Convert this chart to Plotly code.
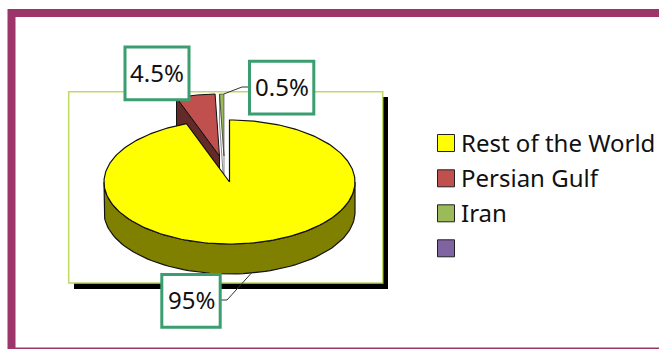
import numpy as np
import plotly.graph_objects as go

# Chart data
categories = ["Rest of the World", "Persian Gulf", "Iran", ""]
shares = [95, 4.5, 0.5, 0]
value_labels = ["95%", "4.5%", "0.5%"]

# Slice styling
top_colors = ["#FFFF00", "#C0504D", "#9BBB59", "#8064A2"]
side_colors = ["#808000", "#632A28", "#FFFFFF", "#403251"]
outline_widths = [1.2, 1.0, 0.5]

# Pie projection on the pixel-sized axes
CX, CY = 229.5, 182.0
RX, RY = 125.5, 62.0
DEPTH = 30.0
WARP = 0.06
EXPLODE = [(0.0, 0.0), (-10.0, -26.0), (-5.5, -26.0)]
OUTLINE = "#111111"
FONT = "Noto Sans, sans-serif"


def project(turn, offset=(0.0, 0.0), drop=0.0):
    """Map a clockwise angle (radians from 12 o'clock) onto the tilted disc."""
    t = np.asarray(turn, dtype=float)
    t = t + WARP * np.sin(2 * t)
    return CX + offset[0] + RX * np.sin(t), CY + offset[1] + drop - RY * np.cos(t)


def polygon(xs, ys, fill, width=1.0):
    return go.Scatter(x=list(xs), y=list(ys), mode="lines", fill="toself", fillcolor=fill,
                      line=dict(color=OUTLINE, width=width), hoverinfo="skip")


edges = 2 * np.pi * np.cumsum([0] + shares[:3]) / sum(shares)
fig = go.Figure()

# Exploded slices go first so the large slice overlaps their cut faces
for i in (2, 1):
    off = EXPLODE[i]
    arc = np.linspace(edges[i], edges[i + 1], 20)
    ax, ay = project(arc, off)
    lx, ly = project(edges[i], off)
    ldx, ldy = project(edges[i], off, DEPTH)
    px, py = CX + off[0], CY + off[1]
    fig.add_trace(polygon([lx, ldx, px, px, lx], [ly, ldy, py + DEPTH, py, ly],
                          side_colors[i], outline_widths[i]))
    fig.add_trace(polygon(np.r_[px, ax, px], np.r_[py, ay, py], top_colors[i], outline_widths[i]))

# Main slice: front wall, then the top face
front = np.linspace(np.pi / 2, 3 * np.pi / 2, 80)
fx, fy = project(front)
bx, by = project(front[::-1], drop=DEPTH)
fig.add_trace(polygon(np.r_[fx, bx, fx[0]], np.r_[fy, by, fy[0]], side_colors[0], outline_widths[0]))
main_arc = np.linspace(edges[0], edges[1], 240)
mx, my = project(main_arc)
fig.add_trace(polygon(np.r_[CX, mx, CX], np.r_[CY, my, CY], top_colors[0], outline_widths[0]))

# Leader lines from the slices to their value boxes
mid_main = (edges[0] + edges[1]) / 2
rim_x, rim_y = project(mid_main, drop=DEPTH)
iran_x, iran_y = project((edges[2] + edges[3]) / 2, EXPLODE[2])
leader = dict(mode="lines", line=dict(color="#333333", width=1), hoverinfo="skip")
fig.add_trace(go.Scatter(x=[float(rim_x), 227, 221], y=[float(rim_y), 300, 300], **leader))
fig.add_trace(go.Scatter(x=[float(iran_x) + 2, 242, 248], y=[float(iran_y), 87, 87], **leader))

# Legend swatches; their names are placed as annotations below
legend_x = 446.0
legend_y = [143.0, 178.3, 213.3, 248.3]
fig.add_trace(go.Scatter(
    x=[legend_x] * len(categories), y=legend_y, mode="markers",
    marker=dict(symbol="square", size=17, color=top_colors, line=dict(color="#222222", width=1)),
    hoverinfo="skip"))

BOX = "#3A9E70"
boxes = [(161.8, 274.5, 220.2, 327.2), (125, 47, 189, 99.8), (249.5, 61.2, 313.8, 114)]
shapes = [
    dict(type="rect", x0=74, y0=97, x1=388, y1=289, fillcolor="#000000",
         line=dict(width=0), layer="below"),
    dict(type="rect", x0=68.7, y0=91.7, x1=382.7, y1=283, fillcolor="#FFFFFF",
         line=dict(color="#BFD968", width=1.5), layer="below"),
    dict(type="rect", x0=11.5, y0=13, x1=680, y1=351.5, fillcolor="rgba(0,0,0,0)",
         line=dict(color="#9D356B", width=8), layer="below"),
]
annotations = []
for text, (x0, y0, x1, y1) in zip(value_labels, boxes):
    shapes.append(dict(type="rect", x0=x0, y0=y0, x1=x1, y1=y1, fillcolor="#FFFFFF",
                       line=dict(color=BOX, width=3), layer="above"))
    annotations.append(dict(x=(x0 + x1) / 2, y=(y0 + y1) / 2 - 1, text=text, showarrow=False,
                            font=dict(family=FONT, size=24, color="#111111"),
                            xanchor="center", yanchor="middle"))
for name, y in zip(categories, legend_y):
    if name:
        annotations.append(dict(x=459, y=y - 0.5, text=name, showarrow=False,
                                font=dict(family=FONT, size=24, color="#111111"),
                                xanchor="left", yanchor="middle"))

fig.update_layout(
    width=659, height=349, margin=dict(l=0, r=0, t=0, b=0),
    paper_bgcolor="#FFFFFF", plot_bgcolor="#FFFFFF", showlegend=False,
    xaxis=dict(range=[0, 659], visible=False, fixedrange=True),
    yaxis=dict(range=[349, 0], visible=False, fixedrange=True),
    shapes=shapes, annotations=annotations,
)
fig.write_html("out.html", config=dict(displayModeBar=False))
